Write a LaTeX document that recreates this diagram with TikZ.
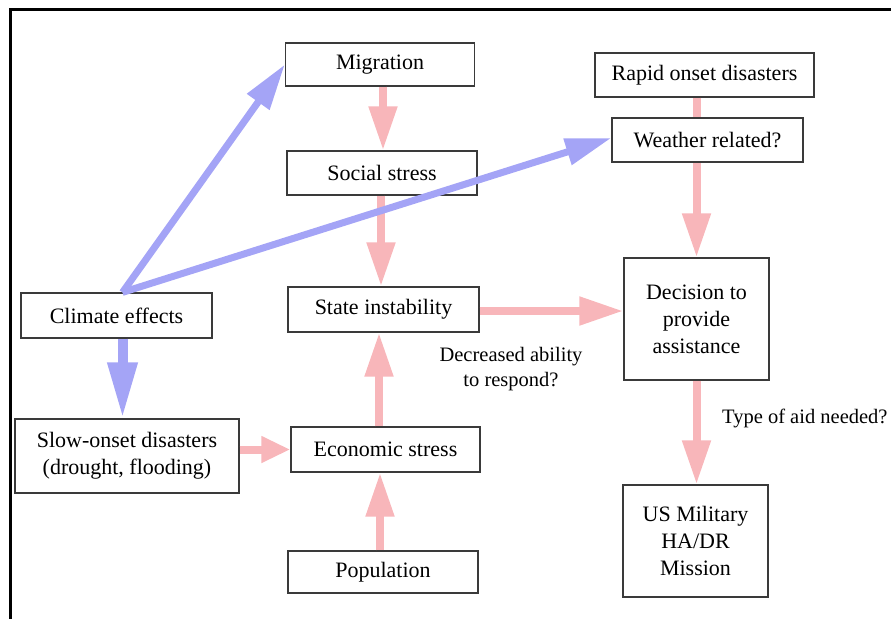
\documentclass[tikz,border=0pt]{standalone}
\usepackage{fontspec}
\setmainfont{Liberation Serif}[Ligatures=TeX]
\newfontfamily\diagramface{Liberation Serif}
\usetikzlibrary{arrows.meta}
\definecolor{pinkarrow}{RGB}{248,182,186}
\definecolor{bluearrow}{RGB}{164,164,246}
\definecolor{boxline}{RGB}{58,58,58}
\begin{document}
\begin{tikzpicture}[x=1pt,y=-1pt,
  box/.style={draw=boxline, line width=1.3pt, fill=white, inner sep=0pt,
    align=center, font=\diagramface\fontsize{22}{27}\selectfont},
  note/.style={inner sep=0pt, align=center, font=\diagramface\fontsize{20.5}{25}\selectfont},
  pk/.style={draw=pinkarrow, line width=8pt, -{Triangle[width=27pt,length=44pt]}},
  pkshort/.style={draw=pinkarrow, line width=8pt, -{Triangle[width=25pt,length=29pt]}},
  bl/.style={draw=bluearrow, line width=7pt, -{Triangle[width=26pt,length=46pt]}},
  bldown/.style={draw=bluearrow, line width=10pt, -{Triangle[width=28pt,length=56pt]}},
  frame/.style={line width=2.8pt, black}
]
\useasboundingbox (0,0) rectangle (891,619);

% outer frame (top and left edges)
\coordinate (frameTL) at (10.3,9.6);
\coordinate (frameTR) at (891,9.6);
\coordinate (frameBL) at (10.3,619);
\draw[frame] (frameTR) -- (frameTL) -- (frameBL);

% boxes
\node[box, minimum width=189pt, minimum height=43pt] (mig) at (380,64.5) {Migration};
\node[box, minimum width=190pt, minimum height=44pt] (soc) at (382,173) {Social stress};
\node[box, minimum width=191pt, minimum height=45pt] (sta) at (383.5,309.5) {State instability};
\node[box, minimum width=189pt, minimum height=45pt] (eco) at (385.5,449.5) {Economic stress};
\node[box, minimum width=190pt, minimum height=42pt] (pop) at (383,572) {Population};
\node[box, minimum width=191pt, minimum height=45pt] (cli) at (116.5,315.5) {Climate effects};
\node[box, minimum width=224pt, minimum height=74pt] (slow) at (127,456)
  {Slow-onset disasters\\(drought, flooding)};
\node[box, minimum width=219pt, minimum height=44pt] (rap) at (704.5,75) {Rapid onset disasters};
\node[box, minimum width=145pt, minimum height=122pt] (dec) at (696.5,319)
  {Decision to\\provide\\assistance};
\node[box, minimum width=145pt, minimum height=112pt] (usm) at (695.5,541)
  {US Military\\HA/DR\\Mission};

% free labels
\node[note] (lblability) at (511,369.5) {Decreased ability\\to respond?};
\node[note, anchor=west] (lblaid) at (722,418) {Type of aid needed?};

% pink causal arrows
\draw[pk] (mig.south -| 383,0) -- (soc.north -| 383,0);
\draw[pk] (soc.south -| 381,0) -- (sta.north -| 381,0);
\draw[pk] (eco.north -| 379,0) -- (sta.south -| 379,0);
\draw[pk] (pop.north -| 380,0) -- (eco.south -| 380,0);
\draw[pkshort] (slow.east |- eco) -- (eco.west);
\draw[pk] (sta.east |- 0,311) -- (dec.west |- 0,311);
\draw[pk] (rap.south -| dec) -- (dec.north);
\draw[pk] (dec.south) -- (dec.south |- usm.north);

% weather box sits on top of the rapid-onset arrow
\node[box, minimum width=191pt, minimum height=44pt] (wea) at (707.5,140) {Weather related?};

% blue climate arrows
\coordinate (cliTop) at ([xshift=6pt]cli.north);
\draw[bl] (cliTop) -- (mig.west);
\draw[bl] (cliTop) -- ([yshift=2pt]wea.west);
\draw[bldown] (cli.south -| cliTop) -- (slow.north -| cliTop);
\end{tikzpicture}
\end{document}
